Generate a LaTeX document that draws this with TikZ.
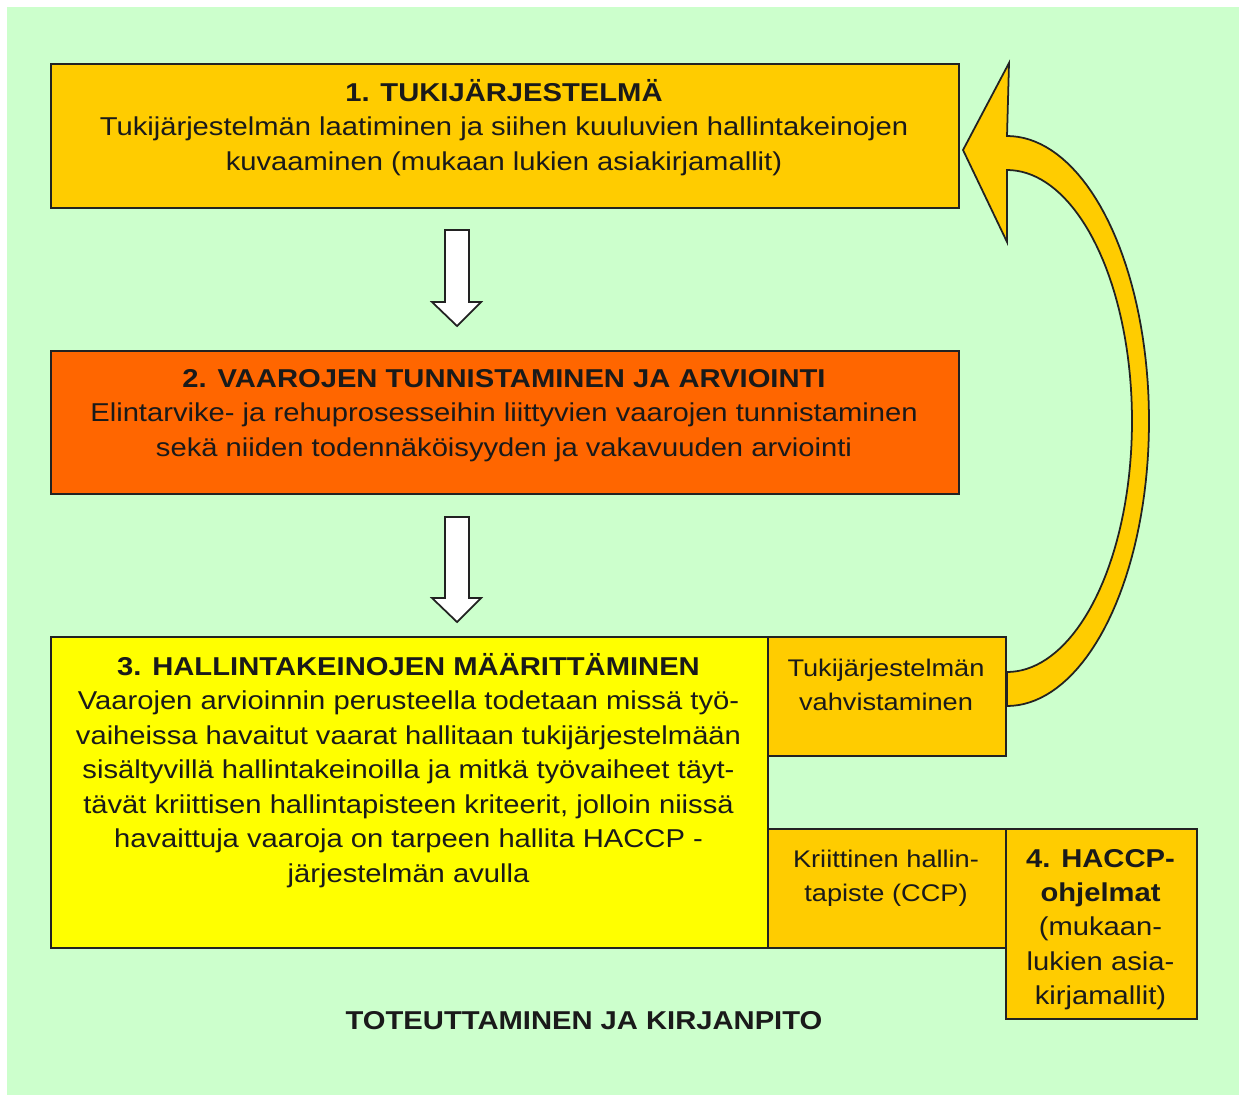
\documentclass[tikz,border=0pt]{standalone}
\usepackage{fontspec}
\setmainfont[FakeStretch=1.13]{Liberation Sans}
\definecolor{bg}{HTML}{CCFFCC}
\definecolor{gold}{HTML}{FFCC00}
\definecolor{redor}{HTML}{FF6600}
\definecolor{yel}{HTML}{FFFF00}
\definecolor{ink}{HTML}{1A1A1A}
\definecolor{edge}{HTML}{222222}
\newcommand\ml[1]{\begin{tabular}[t]{@{}c@{}}#1\end{tabular}}
\begin{document}
\begin{tikzpicture}[x=0.02cm,y=-0.02cm,
  box/.style={draw=edge, line width=1pt, rectangle, inner sep=0pt, anchor=north west},
  txt/.style={anchor=base, inner sep=0pt, text=ink, font=\fontsize{14.7}{19.6}\selectfont},
  txts/.style={anchor=base, inner sep=0pt, text=ink, font=\fontsize{13.7}{19.4}\selectfont},
  blockarrow/.style={draw=edge, line width=1pt, fill=white, line join=miter},
  bigarrow/.style={draw=edge, line width=1pt, fill=gold, line join=miter}]
\useasboundingbox (0,0) rectangle (1239,1095);
\fill[bg] (7,7) rectangle (1239,1095);

\node[box, fill=gold, minimum width=18.16cm, minimum height=2.88cm] (b1) at (50,63) {};
\node[box, fill=redor, minimum width=18.16cm, minimum height=2.86cm] (b2) at (50,350) {};
\node[box, fill=yel, minimum width=14.34cm, minimum height=6.22cm] (b3) at (50,636) {};
\node[box, fill=gold, minimum width=4.76cm, minimum height=2.38cm] (bt) at (767,636) {};
\node[box, fill=gold, minimum width=4.76cm, minimum height=2.38cm] (bk) at (767,828) {};
\node[box, fill=gold, minimum width=3.82cm, minimum height=3.8cm] (b4) at (1005,828) {};

\node[txt] (t1) at (504,101.5) {\ml{\textbf{1. TUKIJÄRJESTELMÄ}\\
  Tukijärjestelmän laatiminen ja siihen kuuluvien hallintakeinojen\\
  kuvaaminen (mukaan lukien asiakirjamallit)}};
\node[txt] (t2) at (504,387.5) {\ml{\textbf{2. VAAROJEN TUNNISTAMINEN JA ARVIOINTI}\\
  Elintarvike- ja rehuprosesseihin liittyvien vaarojen tunnistaminen\\
  sekä niiden todennäköisyyden ja vakavuuden arviointi}};
\node[txt] (t3) at (408.5,675.5) {\ml{\textbf{3. HALLINTAKEINOJEN MÄÄRITTÄMINEN}\\
  Vaarojen arvioinnin perusteella todetaan missä työ-\\
  vaiheissa havaitut vaarat hallitaan tukijärjestelmään\\
  sisältyvillä hallintakeinoilla ja mitkä työvaiheet täyt-\\
  tävät kriittisen hallintapisteen kriteerit, jolloin niissä\\
  havaittuja vaaroja on tarpeen hallita HACCP -\\
  järjestelmän avulla}};
\node[txts] (tt) at (886,676) {\ml{Tukijärjestelmän\\ vahvistaminen}};
\node[txts] (tk) at (886,867) {\ml{Kriittinen hallin-\\ tapiste (CCP)}};
\node[txt] (t4) at (1100.5,867) {\ml{\textbf{4. HACCP-}\\ \textbf{ohjelmat}\\ (mukaan-\\ lukien asia-\\ kirjamallit)}};
\node[txt, font=\bfseries\fontsize{14.7}{19.6}\selectfont] (tb) at (584,1029) {TOTEUTTAMINEN JA KIRJANPITO};

% block arrows b1 -> b2 and b2 -> b3
\draw[blockarrow] (445,230) -- (469,230) -- (469,302) -- (481,302) -- (457,326)
  -- (432,302) -- (445,302) -- cycle;
\draw[blockarrow] (445,517) -- (469,517) -- (469,598) -- (481,598) -- (457,622)
  -- (432,598) -- (445,598) -- cycle;

% curved arrow from bt back to b1
\draw[bigarrow] (1007,706)
  -- plot[domain=90:-90, samples=80] ({1007+142*cos(\x)},{421+285*sin(\x)})
  -- (1009,63) -- (963,150) -- (1007,242) -- (1007,170)
  -- plot[domain=-90:90, samples=80] ({1007+125*cos(\x)},{421+251*sin(\x)})
  -- cycle;
\end{tikzpicture}
\end{document}
